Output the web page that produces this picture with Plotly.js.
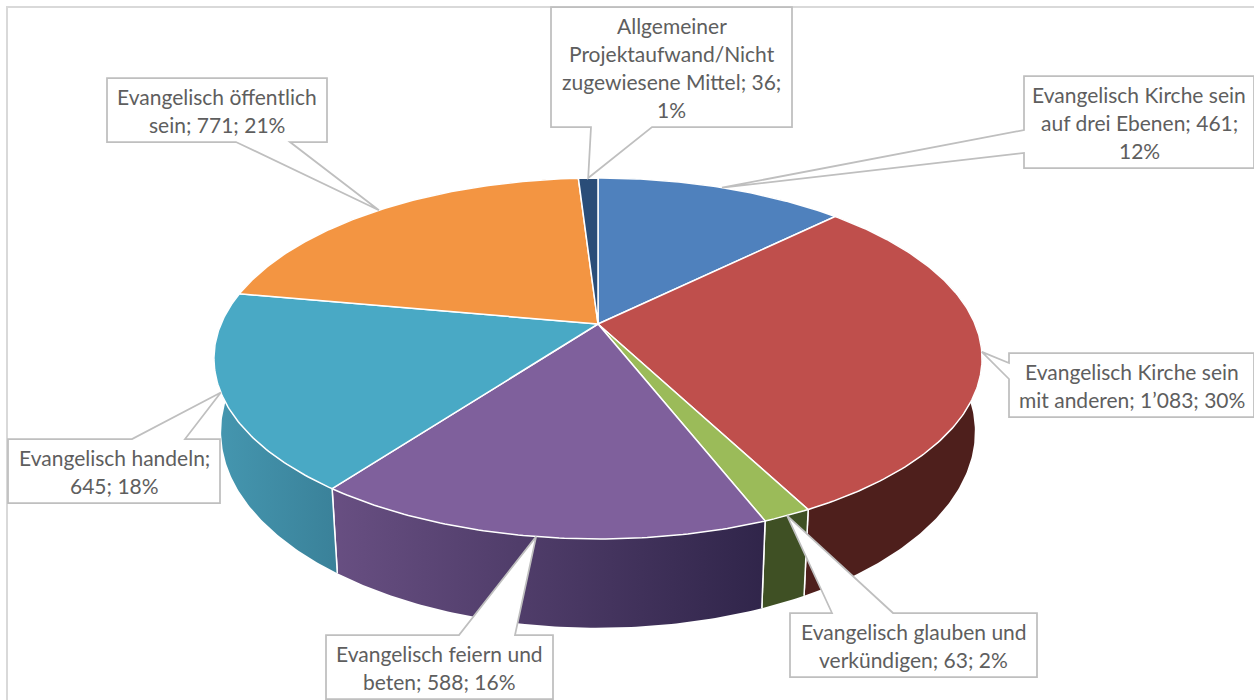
<!DOCTYPE html>
<html>
<head>
<meta charset="utf-8">
<script src="https://cdn.plot.ly/plotly-3.0.1.min.js"></script>
<style>html,body{margin:0;padding:0;background:#fff}#chart{width:1254px;height:700px}</style>
</head>
<body>
<div id="chart"></div>
<script>
// Data
const categories = ["Evangelisch Kirche sein auf drei Ebenen","Evangelisch Kirche sein mit anderen","Evangelisch glauben und verkündigen","Evangelisch feiern und beten","Evangelisch handeln","Evangelisch öffentlich sein","Allgemeiner Projektaufwand/Nicht zugewiesene Mittel"];
const values = [461,1083,63,588,645,771,36];
const labelLines = [
  ["Evangelisch Kirche sein","auf drei Ebenen; 461;","12%"],
  ["Evangelisch Kirche sein","mit anderen; 1’083; 30%"],
  ["Evangelisch glauben und","verkündigen; 63; 2%"],
  ["Evangelisch feiern und","beten; 588; 16%"],
  ["Evangelisch handeln;","645; 18%"],
  ["Evangelisch öffentlich","sein; 771; 21%"],
  ["Allgemeiner","Projektaufwand/Nicht","zugewiesene Mittel; 36;","1%"]
];
const topColors = ["#4F81BD","#BF4F4C","#9BBB59","#7F609C","#49A9C5","#F39542","#2A4D78"];
const sideColors = [
  ["#2F4D71","#2F4D71"],["#4E1F1C","#4E1F1C"],["#3F5024","#3F5024"],
  ["#684F82","#30254A"],["#4597B0","#3A8199"],["#94592A","#94592A"],["#1A2E47","#1A2E47"]
];

// Layout constants: callout boxes [x0,y0,x1,y1] and where the pointer leaves the box
const boxes = [[1024,76,1254,168],[1009,353,1254,417],[790,613,1037,677],[326,635,553,699],[8,439,220,503],[107,78,327,142],[551,7,792,127]];
const pointerBase = [
  {side:"left",a:130,b:153},{side:"left",a:363,b:379},{side:"top",a:832,b:893},
  {side:"top",a:459,b:515},{side:"top",a:132,b:185},{side:"bottom",a:236,b:290},{side:"bottom",a:591,b:652}
];

// Perspective projection of the pie's top and bottom discs
const CX=598, LINE=28;
const TOP={cy:324,a:377,b:173.9,k:0.191}, BOTTOM={cy:394.5,a:370,b:188.9,k:0.19};
function proj(th,d){const u=Math.sin(th),v=Math.cos(th),w=1+d.k*v;return [CX+d.a*u/w,d.cy-d.b*v/w];}
const total=values.reduce((a,b)=>a+b,0);
const traces=[],tops=[],shapes=[],annotations=[];
let cum=0;
values.forEach((val,i)=>{
  const t0=cum/total*2*Math.PI,t1=(cum+val)/total*2*Math.PI;cum+=val;
  const n=Math.max(6,Math.round((t1-t0)*90));
  const ths=[];for(let k=0;k<=n;k++)ths.push(t0+(t1-t0)*k/n);
  const rim=ths.map(th=>proj(th,TOP));
  const under=ths.map(th=>proj(th,BOTTOM));
  const ring=rim.concat(under.slice().reverse(),[rim[0]]);
  traces.push({type:"scatter",mode:"lines",x:ring.map(p=>p[0]),y:ring.map(p=>p[1]),fill:"toself",
    fillgradient:{type:"horizontal",colorscale:[[0,sideColors[i][0]],[1,sideColors[i][1]]]},
    line:{color:"rgba(255,255,255,0)",width:0},hoverinfo:"skip",showlegend:false});
  // white vertical seams at the slice ends
  [0,n].forEach(k=>{const p=rim[k],q=under[k];
    traces.push({type:"scatter",mode:"lines",x:[p[0],q[0]],y:[p[1],q[1]],line:{color:"#ffffff",width:1.5},hoverinfo:"skip",showlegend:false});});
  const wedge=[[CX,TOP.cy]].concat(rim,[[CX,TOP.cy]]);
  tops.push({type:"scatter",mode:"lines",x:wedge.map(p=>p[0]),y:wedge.map(p=>p[1]),fill:"toself",fillcolor:topColors[i],
    line:{color:"#ffffff",width:1.5},name:categories[i],text:labelLines[i].join(" "),hoverinfo:"text",showlegend:false});
  // callout
  const tip=proj((t0+t1)/2,TOP);
  const [x0,y0,x1,y1]=boxes[i],pb=pointerBase[i];
  let d;
  if(pb.side==="left") d=`M${x0},${y0}L${x1},${y0}L${x1},${y1}L${x0},${y1}L${x0},${pb.b}L${tip[0]},${tip[1]}L${x0},${pb.a}Z`;
  else if(pb.side==="top") d=`M${x0},${y0}L${pb.a},${y0}L${tip[0]},${tip[1]}L${pb.b},${y0}L${x1},${y0}L${x1},${y1}L${x0},${y1}Z`;
  else d=`M${x0},${y0}L${x1},${y0}L${x1},${y1}L${pb.b},${y1}L${tip[0]},${tip[1]}L${pb.a},${y1}L${x0},${y1}Z`;
  shapes.push({type:"path",path:d,xref:"x",yref:"y",fillcolor:"#ffffff",line:{color:"#BFBFBF",width:1.75},layer:"above"});
  const lines=labelLines[i];
  lines.forEach((s,j)=>{
    annotations.push({x:(x0+x1)/2,y:(y0+y1)/2+(j-(lines.length-1)/2)*LINE,xref:"x",yref:"y",text:s,showarrow:false,
      xanchor:"center",yanchor:"middle",font:{family:"Lato, 'Open Sans', sans-serif",size:21,color:"#5E5E5E"}});
  });
});
// chart frame
shapes.push({type:"path",path:"M7,700L7,7L1254,7",xref:"x",yref:"y",line:{color:"#D9D9D9",width:2},layer:"below"});

Plotly.newPlot("chart",traces.concat(tops),{
  width:1254,height:700,margin:{l:0,r:0,t:0,b:0},paper_bgcolor:"#fff",plot_bgcolor:"#fff",showlegend:false,
  xaxis:{range:[0,1254],visible:false,fixedrange:true},
  yaxis:{range:[700,0],visible:false,fixedrange:true},
  shapes:shapes,annotations:annotations
},{displayModeBar:false});
</script>
</body>
</html>
